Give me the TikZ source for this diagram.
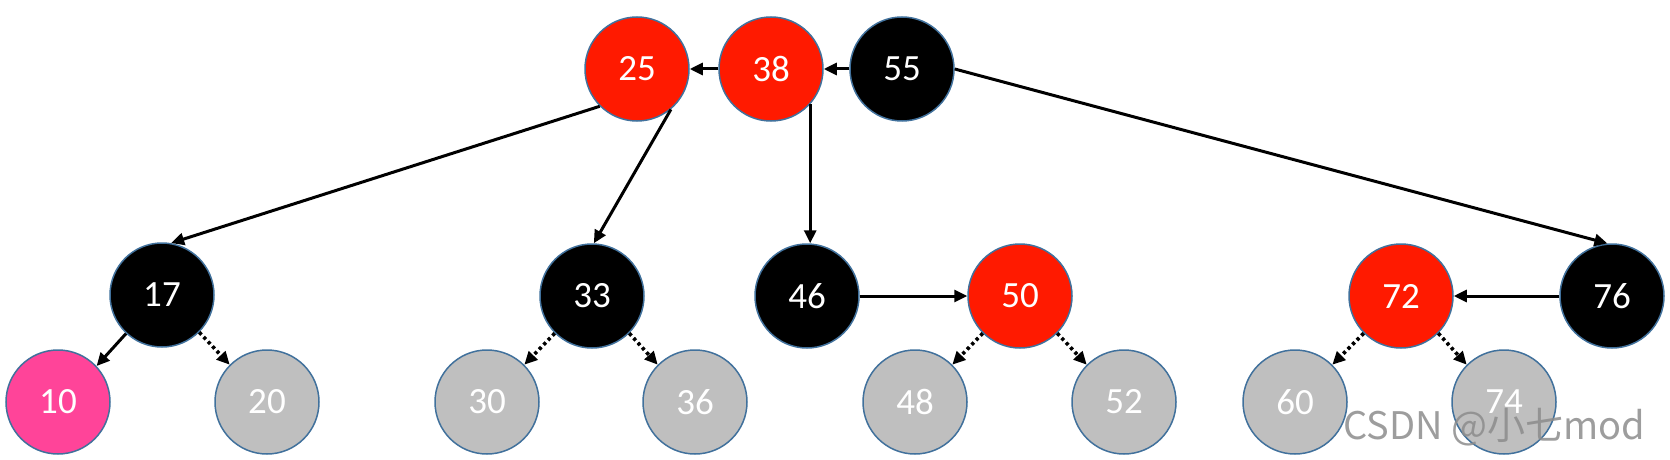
\documentclass[tikz,border=0pt]{standalone}
\usepackage{fontspec}
\setmainfont{Carlito}
\newfontfamily\wmfont{Noto Sans CJK SC}
\usetikzlibrary{arrows.meta}
\definecolor{rbred}{HTML}{FF1A00}
\definecolor{rbpink}{HTML}{FF4499}
\definecolor{rbgray}{HTML}{BFBFBF}
\definecolor{rbedge}{HTML}{41719C}
\tikzset{
  nd/.style={circle, draw=rbedge, line width=0.75pt, minimum size=52pt, inner sep=0pt,
             text=white, font=\fontsize{18.5pt}{18.5pt}\selectfont},
  blk/.style={nd, fill=black},
  redn/.style={nd, fill=rbred},
  pinkn/.style={nd, fill=rbpink},
  grayn/.style={nd, fill=rbgray},
  conn/.style={line width=1.5pt, -{Triangle[length=6.5pt,width=6pt]}},
  dconn/.style={line width=1.8pt, dash pattern=on 1.6pt off 1.6pt,
                -{Triangle[length=6.5pt,width=6pt]}},
}
\begin{document}
\begin{tikzpicture}[x=0.5pt,y=-0.5pt]
\useasboundingbox (0,0) rectangle (1670,460);
% top row
\node[redn] (n25) at (637,69) {25};
\node[redn] (n38) at (771,69) {38};
\node[blk]  (n55) at (902,69) {55};
% middle row
\node[blk]  (n17) at (162,295) {17};
\node[blk]  (n33) at (592,296) {33};
\node[blk]  (n46) at (807,296) {46};
\node[redn] (n50) at (1020,296) {50};
\node[redn] (n72) at (1401,296) {72};
\node[blk]  (n76) at (1612,296) {76};
% bottom row
\node[pinkn] (n10) at (58,402) {10};
\node[grayn] (n20) at (267,402) {20};
\node[grayn] (n30) at (487,402) {30};
\node[grayn] (n36) at (695,402) {36};
\node[grayn] (n48) at (915,402) {48};
\node[grayn] (n52) at (1124,402) {52};
\node[grayn] (n60) at (1295,402) {60};
\node[grayn] (n74) at (1504,402) {74};
% solid connectors
\draw[conn] (n38) -- (n25);
\draw[conn] (n55) -- (n38);
\draw[conn] (n25.225) -- (n17.80);
\draw[conn] (n25.310) -- (n33.88);
\draw[conn] (n38.318) -- (n38.318 |- n46.north);
\draw[conn] (n55.east) -- (n76.95);
\draw[conn] (n46) -- (n50);
\draw[conn] (n76) -- (n72);
\draw[conn] (n17.227) -- (n10.43);
% dotted connectors
\draw[dconn] (n17.315) -- (n20.135);
\draw[dconn] (n33.225) -- (n30.45);
\draw[dconn] (n33.315) -- (n36.135);
\draw[dconn] (n50.225) -- (n48.45);
\draw[dconn] (n50.315) -- (n52.135);
\draw[dconn] (n72.225) -- (n60.45);
\draw[dconn] (n72.315) -- (n74.135);
% watermark
\node[anchor=west, text=black!45, opacity=0.85, inner sep=0pt,
      font=\wmfont\fontsize{19pt}{19pt}\selectfont] (wm) at (1343,427) {CSDN @小七mod};
\end{tikzpicture}
\end{document}
